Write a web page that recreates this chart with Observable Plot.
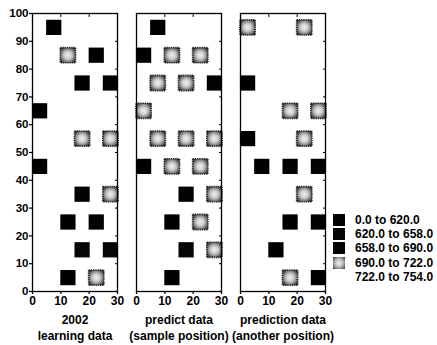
<!DOCTYPE html>
<html>
<head>
<meta charset="utf-8">
<script src="https://cdn.jsdelivr.net/npm/d3@7"></script>
<script src="https://cdn.jsdelivr.net/npm/@observablehq/plot@0.6"></script>
<style>
  html, body { margin: 0; padding: 0; background: #fff; }
  #wrap { position: relative; width: 437px; height: 345px; font-family: "Liberation Sans", Arial, sans-serif; }
  #legend { position: absolute; left: 333px; top: 213px; font-weight: bold; font-size: 12px; color: #000; }
  .row { display: flex; align-items: center; height: 14.2px; white-space: pre; }
  .sw { width: 12px; height: 12px; margin-right: 10px; box-sizing: border-box; }
</style>
</head>
<body>
<div id="wrap"><div id="legend"></div></div>
<script>
// Panel titles (facets)
const panels = ["2002\nlearning data", "predict data\n(sample position)", "prediction data\n(another position)"];
// Value classes (legend)
const classes = ["0.0 to 620.0", "620.0 to 658.0", "658.0 to 690.0", "690.0 to 722.0", "722.0 to 754.0"];
const classColors = ["#000000", "#070707", "#020202", "url(#stip)", "#ffffff"];
// Cells: [x, y, class index]
const learning = [[7.5,95,0],[12.5,85,3],[22.5,85,0],[17.5,75,0],[27.5,75,2],[2.5,65,0],[17.5,55,3],[27.5,55,3],[2.5,45,0],[17.5,35,2],[27.5,35,3],[12.5,25,0],[22.5,25,2],[17.5,15,1],[27.5,15,1],[12.5,5,0],[22.5,5,3]];
const predictSample = [[7.5,95,0],[2.5,85,0],[12.5,85,3],[22.5,85,3],[7.5,75,3],[17.5,75,3],[27.5,75,2],[2.5,65,3],[7.5,55,3],[17.5,55,3],[27.5,55,3],[2.5,45,0],[12.5,45,3],[22.5,45,3],[17.5,35,2],[27.5,35,3],[12.5,25,0],[22.5,25,3],[17.5,15,1],[27.5,15,3],[12.5,5,0]];
const predictAnother = [[2.5,95,3],[22.5,95,3],[2.5,75,0],[17.5,65,3],[27.5,65,3],[2.5,55,0],[22.5,55,3],[7.5,45,0],[17.5,45,2],[27.5,45,2],[22.5,35,3],[17.5,25,0],[27.5,25,2],[12.5,15,0],[17.5,5,3],[27.5,5,0]];
// Axis ticks
const xTicks = [0, 10, 20, 30];
const yTicks = [0, 10, 20, 30, 40, 50, 60, 70, 80, 90, 100];

const series = [learning, predictSample, predictAnother];
const cells = series.flatMap((arr, i) => arr.map(([x, y, c]) => ({panel: panels[i], x, y, cls: classes[c]})));

const font = {fontFamily: "'Liberation Sans', Arial, sans-serif", fontWeight: "bold"};

const chart = Plot.plot({
  width: 437,
  height: 345,
  marginLeft: 31,
  marginRight: 111,
  marginTop: 13,
  marginBottom: 54,
  style: {...font, fontSize: "12px", background: "#fff", color: "#000"},
  fx: {domain: panels, paddingInner: 0.181, paddingOuter: 0, axis: null},
  x: {domain: [0, 30]},
  y: {domain: [0, 100]},
  color: {domain: classes, range: classColors},
  marks: [
    Plot.dot(cells, {fx: "panel", x: "x", y: "y", fill: d => d.cls, symbol: "square", r: 8.6,
      stroke: d => d.cls === classes[3] ? "#2a2a2a" : "none", strokeWidth: 1.6, strokeDasharray: "1.3,0.9"}),
    Plot.frame({stroke: "#000", strokeWidth: 1.3}),
    Plot.axisX({ticks: xTicks, tickSize: 3, tickPadding: 2, fontSize: 12, label: null, strokeWidth: 1.2}),
    Plot.axisX({anchor: "top", ticks: [10, 20], tickSize: 3, dy: 3, text: null, label: null, facetAnchor: null}),
    Plot.axisY({ticks: yTicks, tickSize: 3, tickPadding: 1, fontSize: 11.5, label: null, strokeWidth: 1.2}),
    Plot.axisY({anchor: "right", ticks: yTicks.slice(1, 10), tickSize: 3, dx: -3, text: null, label: null, facetAnchor: null}),
    Plot.text(panels, {fx: d => d, text: d => d, frameAnchor: "bottom", dy: 20.5, lineAnchor: "top", lineHeight: 1.35, fontSize: 12, fontWeight: "bold"})
  ]
});

chart.insertAdjacentHTML("afterbegin",
  `<defs>
     <radialGradient id="stip" cx="50%" cy="50%" r="60%">
       <stop offset="0%" stop-color="#eeeeee"/>
       <stop offset="40%" stop-color="#cfcfcf"/>
       <stop offset="75%" stop-color="#7a7a7a"/>
       <stop offset="100%" stop-color="#2a2a2a"/>
     </radialGradient>
   </defs>`);

const wrap = document.getElementById("wrap");
wrap.insertBefore(chart, wrap.firstChild);

const swatchBg = [
  "#000",
  "#070707",
  "#020202",
  "radial-gradient(circle, #eeeeee 0%, #c8c8c8 40%, #6a6a6a 80%, #2a2a2a 100%)",
  "transparent"
];
const legend = document.getElementById("legend");
classes.forEach((c, i) => {
  const row = document.createElement("div");
  row.className = "row";
  const sw = document.createElement("div");
  sw.className = "sw";
  sw.style.background = swatchBg[i];
  row.appendChild(sw);
  const t = document.createElement("span");
  t.textContent = c;
  row.appendChild(t);
  legend.appendChild(row);
});
</script>
</body>
</html>
